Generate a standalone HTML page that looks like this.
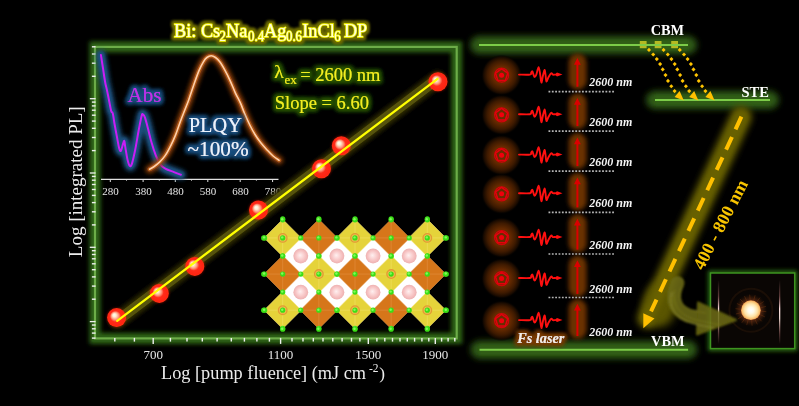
<!DOCTYPE html>
<html><head><meta charset="utf-8"><style>html,body{margin:0;padding:0;background:#000;}svg{display:block;}</style></head>
<body><svg width="799" height="406" viewBox="0 0 799 406">
<rect width="799" height="406" fill="#000"/>

<defs>
 <filter id="blur2" filterUnits="userSpaceOnUse" x="0" y="0" width="799" height="406"><feGaussianBlur stdDeviation="2"/></filter>
 <filter id="blur3" filterUnits="userSpaceOnUse" x="0" y="0" width="799" height="406"><feGaussianBlur stdDeviation="3"/></filter>
 <filter id="blur4" filterUnits="userSpaceOnUse" x="0" y="0" width="799" height="406"><feGaussianBlur stdDeviation="4"/></filter>
 <filter id="soft" filterUnits="userSpaceOnUse" x="0" y="0" width="799" height="406"><feGaussianBlur stdDeviation="0.6"/></filter>
 <filter id="blur1" filterUnits="userSpaceOnUse" x="0" y="0" width="799" height="406"><feGaussianBlur stdDeviation="1"/></filter>
 <filter id="glowTitle" x="-10%" y="-50%" width="120%" height="200%">
   <feMorphology in="SourceAlpha" operator="dilate" radius="1.8" result="d"/>
   <feGaussianBlur in="d" stdDeviation="1.8" result="b"/>
   <feFlood flood-color="#6e6c00" result="c"/><feComposite in="c" in2="b" operator="in" result="g"/>
   <feMerge><feMergeNode in="g"/><feMergeNode in="g"/><feMergeNode in="SourceGraphic"/></feMerge>
 </filter>
 <filter id="glowGreenTxt" x="-10%" y="-50%" width="120%" height="200%">
   <feMorphology in="SourceAlpha" operator="dilate" radius="1.5" result="d"/>
   <feGaussianBlur in="d" stdDeviation="2" result="b"/>
   <feFlood flood-color="#285400" result="c"/><feComposite in="c" in2="b" operator="in" result="g"/>
   <feMerge><feMergeNode in="g"/><feMergeNode in="g"/><feMergeNode in="SourceGraphic"/></feMerge>
 </filter>
 <filter id="glowBlueTxt" x="-20%" y="-50%" width="140%" height="200%">
   <feMorphology in="SourceAlpha" operator="dilate" radius="1.5" result="d"/>
   <feGaussianBlur in="d" stdDeviation="2" result="b"/>
   <feFlood flood-color="#1c4f80" result="c"/><feComposite in="c" in2="b" operator="in" result="g"/>
   <feMerge><feMergeNode in="g"/><feMergeNode in="g"/><feMergeNode in="SourceGraphic"/></feMerge>
 </filter>
 <filter id="glowBrownTxt" x="-20%" y="-50%" width="140%" height="200%">
   <feMorphology in="SourceAlpha" operator="dilate" radius="1.5" result="d"/>
   <feGaussianBlur in="d" stdDeviation="2" result="b"/>
   <feFlood flood-color="#7a3a00" result="c"/><feComposite in="c" in2="b" operator="in" result="g"/>
   <feMerge><feMergeNode in="g"/><feMergeNode in="g"/><feMergeNode in="SourceGraphic"/></feMerge>
 </filter>
 <radialGradient id="ball" cx="0.5" cy="0.5" r="0.5" fx="0.36" fy="0.35">
   <stop offset="0" stop-color="#fffff4"/>
   <stop offset="0.18" stop-color="#ffecd0"/>
   <stop offset="0.4" stop-color="#ff9478"/>
   <stop offset="0.58" stop-color="#ff2c1a"/>
   <stop offset="0.88" stop-color="#ff2412"/>
   <stop offset="1" stop-color="#ff3010"/>
 </radialGradient>
 <radialGradient id="pink" cx="0.5" cy="0.5" r="0.5" fx="0.45" fy="0.45">
   <stop offset="0" stop-color="#fff0f0"/>
   <stop offset="0.6" stop-color="#f8c8c8"/>
   <stop offset="1" stop-color="#eeb0b0"/>
 </radialGradient>
 <radialGradient id="laserGlow" cx="0.5" cy="0.5" r="0.5">
   <stop offset="0" stop-color="#6c2d00"/>
   <stop offset="0.42" stop-color="#662a00"/>
   <stop offset="0.7" stop-color="#3e1a00"/>
   <stop offset="0.88" stop-color="#180a00"/>
   <stop offset="1" stop-color="#000" stop-opacity="0"/>
 </radialGradient>
 <radialGradient id="sun" cx="0.5" cy="0.5" r="0.5">
   <stop offset="0" stop-color="#ffffff"/>
   <stop offset="0.3" stop-color="#fffbe8"/>
   <stop offset="0.65" stop-color="#ffe4a8"/>
   <stop offset="0.88" stop-color="#f8c070"/>
   <stop offset="1" stop-color="#e89048"/>
 </radialGradient>
 <radialGradient id="halo" cx="0.5" cy="0.5" r="0.5">
   <stop offset="0" stop-color="#904818"/>
   <stop offset="0.6" stop-color="#4a2210"/>
   <stop offset="0.8" stop-color="#221006"/>
   <stop offset="1" stop-color="#0b0604" stop-opacity="0"/>
 </radialGradient>
 <linearGradient id="vline" x1="0" y1="0" x2="0" y2="1">
   <stop offset="0" stop-color="#c08080" stop-opacity="0"/>
   <stop offset="0.25" stop-color="#b07070" stop-opacity="0.5"/>
   <stop offset="0.45" stop-color="#ffe0e0" stop-opacity="1"/>
   <stop offset="0.6" stop-color="#ffe8e0" stop-opacity="0.9"/>
   <stop offset="0.85" stop-color="#b07070" stop-opacity="0.4"/>
   <stop offset="1" stop-color="#c08080" stop-opacity="0"/>
 </linearGradient>
</defs>
<rect x="95.0" y="46.9" width="361.7" height="291.5" fill="none" stroke="#2e6414" stroke-width="11" filter="url(#blur2)"/>
<rect x="95.0" y="46.9" width="361.7" height="291.5" fill="none" stroke="#2c5e16" stroke-width="6" opacity="0.8"/>
<rect x="95.0" y="46.9" width="361.7" height="291.5" fill="none" stroke="#6cac48" stroke-width="2.2" />
<line x1="114.8" y1="337.9" x2="114.8" y2="341.59999999999997" stroke="#f0f0f0" stroke-width="1.4"/>
<line x1="134.4" y1="337.9" x2="134.4" y2="341.59999999999997" stroke="#f0f0f0" stroke-width="1.4"/>
<line x1="170.4" y1="337.9" x2="170.4" y2="341.59999999999997" stroke="#f0f0f0" stroke-width="1.4"/>
<line x1="187" y1="337.9" x2="187" y2="341.59999999999997" stroke="#f0f0f0" stroke-width="1.4"/>
<line x1="202.3" y1="337.9" x2="202.3" y2="341.59999999999997" stroke="#f0f0f0" stroke-width="1.4"/>
<line x1="217.1" y1="337.9" x2="217.1" y2="341.59999999999997" stroke="#f0f0f0" stroke-width="1.4"/>
<line x1="231.3" y1="337.9" x2="231.3" y2="341.59999999999997" stroke="#f0f0f0" stroke-width="1.4"/>
<line x1="244.4" y1="337.9" x2="244.4" y2="341.59999999999997" stroke="#f0f0f0" stroke-width="1.4"/>
<line x1="256.9" y1="337.9" x2="256.9" y2="341.59999999999997" stroke="#f0f0f0" stroke-width="1.4"/>
<line x1="269.4" y1="337.9" x2="269.4" y2="341.59999999999997" stroke="#f0f0f0" stroke-width="1.4"/>
<line x1="292" y1="337.9" x2="292" y2="341.59999999999997" stroke="#f0f0f0" stroke-width="1.4"/>
<line x1="303" y1="337.9" x2="303" y2="341.59999999999997" stroke="#f0f0f0" stroke-width="1.4"/>
<line x1="313.3" y1="337.9" x2="313.3" y2="341.59999999999997" stroke="#f0f0f0" stroke-width="1.4"/>
<line x1="323" y1="337.9" x2="323" y2="341.59999999999997" stroke="#f0f0f0" stroke-width="1.4"/>
<line x1="332.8" y1="337.9" x2="332.8" y2="341.59999999999997" stroke="#f0f0f0" stroke-width="1.4"/>
<line x1="342.1" y1="337.9" x2="342.1" y2="341.59999999999997" stroke="#f0f0f0" stroke-width="1.4"/>
<line x1="351.5" y1="337.9" x2="351.5" y2="341.59999999999997" stroke="#f0f0f0" stroke-width="1.4"/>
<line x1="359.9" y1="337.9" x2="359.9" y2="341.59999999999997" stroke="#f0f0f0" stroke-width="1.4"/>
<line x1="376.9" y1="337.9" x2="376.9" y2="341.59999999999997" stroke="#f0f0f0" stroke-width="1.4"/>
<line x1="384.8" y1="337.9" x2="384.8" y2="341.59999999999997" stroke="#f0f0f0" stroke-width="1.4"/>
<line x1="392.5" y1="337.9" x2="392.5" y2="341.59999999999997" stroke="#f0f0f0" stroke-width="1.4"/>
<line x1="400" y1="337.9" x2="400" y2="341.59999999999997" stroke="#f0f0f0" stroke-width="1.4"/>
<line x1="407.3" y1="337.9" x2="407.3" y2="341.59999999999997" stroke="#f0f0f0" stroke-width="1.4"/>
<line x1="414.6" y1="337.9" x2="414.6" y2="341.59999999999997" stroke="#f0f0f0" stroke-width="1.4"/>
<line x1="421.9" y1="337.9" x2="421.9" y2="341.59999999999997" stroke="#f0f0f0" stroke-width="1.4"/>
<line x1="428.8" y1="337.9" x2="428.8" y2="341.59999999999997" stroke="#f0f0f0" stroke-width="1.4"/>
<line x1="441.6" y1="337.9" x2="441.6" y2="341.59999999999997" stroke="#f0f0f0" stroke-width="1.4"/>
<line x1="448.1" y1="337.9" x2="448.1" y2="341.59999999999997" stroke="#f0f0f0" stroke-width="1.4"/>
<line x1="454.8" y1="337.9" x2="454.8" y2="341.59999999999997" stroke="#f0f0f0" stroke-width="1.4"/>
<line x1="153.2" y1="337.9" x2="153.2" y2="343.9" stroke="#f0f0f0" stroke-width="1.4"/>
<line x1="280.6" y1="337.9" x2="280.6" y2="343.9" stroke="#f0f0f0" stroke-width="1.4"/>
<line x1="368.3" y1="337.9" x2="368.3" y2="343.9" stroke="#f0f0f0" stroke-width="1.4"/>
<line x1="435.3" y1="337.9" x2="435.3" y2="343.9" stroke="#f0f0f0" stroke-width="1.4"/>
<line x1="89.8" y1="98.7" x2="95.6" y2="98.7" stroke="#f0f0f0" stroke-width="1.3"/>
<line x1="89.8" y1="173.0" x2="95.6" y2="173.0" stroke="#f0f0f0" stroke-width="1.3"/>
<line x1="89.8" y1="247.3" x2="95.6" y2="247.3" stroke="#f0f0f0" stroke-width="1.3"/>
<line x1="89.8" y1="321.59999999999997" x2="95.6" y2="321.59999999999997" stroke="#f0f0f0" stroke-width="1.3"/>
<line x1="91.9" y1="76.3" x2="95.6" y2="76.3" stroke="#f0f0f0" stroke-width="1.4"/>
<line x1="91.9" y1="63.2" x2="95.6" y2="63.2" stroke="#f0f0f0" stroke-width="1.4"/>
<line x1="91.9" y1="54.0" x2="95.6" y2="54.0" stroke="#f0f0f0" stroke-width="1.4"/>
<line x1="91.9" y1="46.8" x2="95.6" y2="46.8" stroke="#f0f0f0" stroke-width="1.4"/>
<line x1="91.9" y1="150.6" x2="95.6" y2="150.6" stroke="#f0f0f0" stroke-width="1.4"/>
<line x1="91.9" y1="137.5" x2="95.6" y2="137.5" stroke="#f0f0f0" stroke-width="1.4"/>
<line x1="91.9" y1="128.3" x2="95.6" y2="128.3" stroke="#f0f0f0" stroke-width="1.4"/>
<line x1="91.9" y1="121.1" x2="95.6" y2="121.1" stroke="#f0f0f0" stroke-width="1.4"/>
<line x1="91.9" y1="115.2" x2="95.6" y2="115.2" stroke="#f0f0f0" stroke-width="1.4"/>
<line x1="91.9" y1="110.2" x2="95.6" y2="110.2" stroke="#f0f0f0" stroke-width="1.4"/>
<line x1="91.9" y1="105.9" x2="95.6" y2="105.9" stroke="#f0f0f0" stroke-width="1.4"/>
<line x1="91.9" y1="102.1" x2="95.6" y2="102.1" stroke="#f0f0f0" stroke-width="1.4"/>
<line x1="91.9" y1="224.9" x2="95.6" y2="224.9" stroke="#f0f0f0" stroke-width="1.4"/>
<line x1="91.9" y1="211.8" x2="95.6" y2="211.8" stroke="#f0f0f0" stroke-width="1.4"/>
<line x1="91.9" y1="202.6" x2="95.6" y2="202.6" stroke="#f0f0f0" stroke-width="1.4"/>
<line x1="91.9" y1="195.4" x2="95.6" y2="195.4" stroke="#f0f0f0" stroke-width="1.4"/>
<line x1="91.9" y1="189.5" x2="95.6" y2="189.5" stroke="#f0f0f0" stroke-width="1.4"/>
<line x1="91.9" y1="184.5" x2="95.6" y2="184.5" stroke="#f0f0f0" stroke-width="1.4"/>
<line x1="91.9" y1="180.2" x2="95.6" y2="180.2" stroke="#f0f0f0" stroke-width="1.4"/>
<line x1="91.9" y1="176.4" x2="95.6" y2="176.4" stroke="#f0f0f0" stroke-width="1.4"/>
<line x1="91.9" y1="299.2" x2="95.6" y2="299.2" stroke="#f0f0f0" stroke-width="1.4"/>
<line x1="91.9" y1="286.1" x2="95.6" y2="286.1" stroke="#f0f0f0" stroke-width="1.4"/>
<line x1="91.9" y1="276.9" x2="95.6" y2="276.9" stroke="#f0f0f0" stroke-width="1.4"/>
<line x1="91.9" y1="269.7" x2="95.6" y2="269.7" stroke="#f0f0f0" stroke-width="1.4"/>
<line x1="91.9" y1="263.8" x2="95.6" y2="263.8" stroke="#f0f0f0" stroke-width="1.4"/>
<line x1="91.9" y1="258.8" x2="95.6" y2="258.8" stroke="#f0f0f0" stroke-width="1.4"/>
<line x1="91.9" y1="254.5" x2="95.6" y2="254.5" stroke="#f0f0f0" stroke-width="1.4"/>
<line x1="91.9" y1="250.7" x2="95.6" y2="250.7" stroke="#f0f0f0" stroke-width="1.4"/>
<line x1="91.9" y1="338.1" x2="95.6" y2="338.1" stroke="#f0f0f0" stroke-width="1.4"/>
<line x1="91.9" y1="333.1" x2="95.6" y2="333.1" stroke="#f0f0f0" stroke-width="1.4"/>
<line x1="91.9" y1="328.8" x2="95.6" y2="328.8" stroke="#f0f0f0" stroke-width="1.4"/>
<line x1="91.9" y1="325.0" x2="95.6" y2="325.0" stroke="#f0f0f0" stroke-width="1.4"/>
<text x="153.2" y="358.6" font-family="Liberation Serif, serif" font-size="13" fill="#e6e6e6" text-anchor="middle">700</text>
<text x="280.6" y="358.6" font-family="Liberation Serif, serif" font-size="13" fill="#e6e6e6" text-anchor="middle">1100</text>
<text x="368.3" y="358.6" font-family="Liberation Serif, serif" font-size="13" fill="#e6e6e6" text-anchor="middle">1500</text>
<text x="435.3" y="358.6" font-family="Liberation Serif, serif" font-size="13" fill="#e6e6e6" text-anchor="middle">1900</text>
<text x="161" y="379.4" font-family="Liberation Serif, serif" font-size="18.3" fill="#ececec">Log [pump fluence] (mJ cm<tspan dy="-7" font-size="11.5"> -2</tspan><tspan dy="7" dx="0.8" font-size="17.2">)</tspan></text>
<text transform="translate(82.4,257.2) rotate(-90)" x="0" y="0" font-family="Liberation Serif, serif" font-size="19" fill="#ececec">Log [integrated PL]</text>
<text transform="translate(174,0) scale(0.945,1) translate(-174,0)" font-family="Liberation Serif, serif" fill="#ffffd8" stroke="#f4f400" stroke-width="1.3" paint-order="stroke" filter="url(#glowTitle)"><tspan x="174.11" y="36.7" font-size="19.3">Bi: Cs</tspan><tspan x="222.25" y="40.6" font-size="13.6">2</tspan><tspan x="229.13" y="36.7" font-size="19.3">Na</tspan><tspan x="252.41" y="40.6" font-size="13.6">0.4</tspan><tspan x="269.34" y="36.7" font-size="19.3">Ag</tspan><tspan x="292.52" y="40.6" font-size="13.6">0.6</tspan><tspan x="309.77" y="36.7" font-size="19.3">InCl</tspan><tspan x="343.63" y="40.6" font-size="13.6">6</tspan><tspan x="353.79" y="36.7" font-size="19.3">DP</tspan></text>
<line x1="101" y1="179.4" x2="278.5" y2="179.4" stroke="#e0e0e0" stroke-width="1.2"/>
<line x1="110.3" y1="179.4" x2="110.3" y2="182" stroke="#e0e0e0" stroke-width="1"/>
<line x1="126.5" y1="179.4" x2="126.5" y2="180.8" stroke="#e0e0e0" stroke-width="0.8"/>
<text x="110.6" y="194.5" font-family="Liberation Serif, serif" font-size="11" fill="#e6e6e6" text-anchor="middle">280</text>
<line x1="143.1" y1="179.4" x2="143.1" y2="182" stroke="#e0e0e0" stroke-width="1"/>
<line x1="159.29999999999998" y1="179.4" x2="159.29999999999998" y2="180.8" stroke="#e0e0e0" stroke-width="0.8"/>
<text x="143.4" y="194.5" font-family="Liberation Serif, serif" font-size="11" fill="#e6e6e6" text-anchor="middle">380</text>
<line x1="175.3" y1="179.4" x2="175.3" y2="182" stroke="#e0e0e0" stroke-width="1"/>
<line x1="191.5" y1="179.4" x2="191.5" y2="180.8" stroke="#e0e0e0" stroke-width="0.8"/>
<text x="175.60000000000002" y="194.5" font-family="Liberation Serif, serif" font-size="11" fill="#e6e6e6" text-anchor="middle">480</text>
<line x1="207.8" y1="179.4" x2="207.8" y2="182" stroke="#e0e0e0" stroke-width="1"/>
<line x1="224.0" y1="179.4" x2="224.0" y2="180.8" stroke="#e0e0e0" stroke-width="0.8"/>
<text x="208.10000000000002" y="194.5" font-family="Liberation Serif, serif" font-size="11" fill="#e6e6e6" text-anchor="middle">580</text>
<line x1="240.2" y1="179.4" x2="240.2" y2="182" stroke="#e0e0e0" stroke-width="1"/>
<line x1="256.4" y1="179.4" x2="256.4" y2="180.8" stroke="#e0e0e0" stroke-width="0.8"/>
<text x="240.5" y="194.5" font-family="Liberation Serif, serif" font-size="11" fill="#e6e6e6" text-anchor="middle">680</text>
<line x1="272.6" y1="179.4" x2="272.6" y2="182" stroke="#e0e0e0" stroke-width="1"/>
<text x="272.90000000000003" y="194.5" font-family="Liberation Serif, serif" font-size="11" fill="#e6e6e6" text-anchor="middle">780</text>
<path d="M100.90,54.90 C101.23,57.03 102.18,63.10 102.90,67.70 C103.62,72.30 104.55,78.88 105.20,82.50 C105.85,86.12 106.13,86.28 106.80,89.40 C107.47,92.52 108.47,97.58 109.20,101.20 C109.93,104.82 110.60,109.07 111.20,111.10 C111.80,113.13 112.25,111.28 112.80,113.40 C113.35,115.52 113.78,119.77 114.50,123.80 C115.22,127.83 116.33,133.58 117.10,137.60 C117.87,141.62 118.47,145.68 119.10,147.90 C119.73,150.12 120.23,151.62 120.90,150.90 C121.57,150.18 122.53,145.25 123.10,143.60 C123.67,141.95 123.93,140.42 124.30,141.00 C124.67,141.58 124.78,144.08 125.30,147.10 C125.82,150.12 126.70,156.03 127.40,159.10 C128.10,162.17 128.78,164.63 129.50,165.50 C130.22,166.37 130.75,166.93 131.70,164.30 C132.65,161.67 134.05,155.30 135.20,149.70 C136.35,144.10 137.53,136.32 138.60,130.70 C139.67,125.08 140.88,118.73 141.60,116.00 C142.32,113.27 142.33,114.03 142.90,114.30 C143.47,114.57 144.13,115.15 145.00,117.60 C145.87,120.05 147.00,124.80 148.10,129.00 C149.20,133.20 150.30,138.35 151.60,142.80 C152.90,147.25 154.47,152.12 155.90,155.70 C157.33,159.28 158.63,162.15 160.20,164.30 C161.77,166.45 163.00,167.30 165.30,168.60 C167.60,169.90 171.40,171.08 174.00,172.10 C176.60,173.12 179.75,174.27 180.90,174.70" fill="none" stroke="#1d4d78" stroke-width="10" stroke-linejoin="round" stroke-linecap="round" filter="url(#blur2)"/>
<path d="M100.90,54.90 C101.23,57.03 102.18,63.10 102.90,67.70 C103.62,72.30 104.55,78.88 105.20,82.50 C105.85,86.12 106.13,86.28 106.80,89.40 C107.47,92.52 108.47,97.58 109.20,101.20 C109.93,104.82 110.60,109.07 111.20,111.10 C111.80,113.13 112.25,111.28 112.80,113.40 C113.35,115.52 113.78,119.77 114.50,123.80 C115.22,127.83 116.33,133.58 117.10,137.60 C117.87,141.62 118.47,145.68 119.10,147.90 C119.73,150.12 120.23,151.62 120.90,150.90 C121.57,150.18 122.53,145.25 123.10,143.60 C123.67,141.95 123.93,140.42 124.30,141.00 C124.67,141.58 124.78,144.08 125.30,147.10 C125.82,150.12 126.70,156.03 127.40,159.10 C128.10,162.17 128.78,164.63 129.50,165.50 C130.22,166.37 130.75,166.93 131.70,164.30 C132.65,161.67 134.05,155.30 135.20,149.70 C136.35,144.10 137.53,136.32 138.60,130.70 C139.67,125.08 140.88,118.73 141.60,116.00 C142.32,113.27 142.33,114.03 142.90,114.30 C143.47,114.57 144.13,115.15 145.00,117.60 C145.87,120.05 147.00,124.80 148.10,129.00 C149.20,133.20 150.30,138.35 151.60,142.80 C152.90,147.25 154.47,152.12 155.90,155.70 C157.33,159.28 158.63,162.15 160.20,164.30 C161.77,166.45 163.00,167.30 165.30,168.60 C167.60,169.90 171.40,171.08 174.00,172.10 C176.60,173.12 179.75,174.27 180.90,174.70" fill="none" stroke="#1f5282" stroke-width="6" stroke-linejoin="round" stroke-linecap="round" opacity="0.8" filter="url(#blur1)"/>
<path d="M100.90,54.90 C101.23,57.03 102.18,63.10 102.90,67.70 C103.62,72.30 104.55,78.88 105.20,82.50 C105.85,86.12 106.13,86.28 106.80,89.40 C107.47,92.52 108.47,97.58 109.20,101.20 C109.93,104.82 110.60,109.07 111.20,111.10 C111.80,113.13 112.25,111.28 112.80,113.40 C113.35,115.52 113.78,119.77 114.50,123.80 C115.22,127.83 116.33,133.58 117.10,137.60 C117.87,141.62 118.47,145.68 119.10,147.90 C119.73,150.12 120.23,151.62 120.90,150.90 C121.57,150.18 122.53,145.25 123.10,143.60 C123.67,141.95 123.93,140.42 124.30,141.00 C124.67,141.58 124.78,144.08 125.30,147.10 C125.82,150.12 126.70,156.03 127.40,159.10 C128.10,162.17 128.78,164.63 129.50,165.50 C130.22,166.37 130.75,166.93 131.70,164.30 C132.65,161.67 134.05,155.30 135.20,149.70 C136.35,144.10 137.53,136.32 138.60,130.70 C139.67,125.08 140.88,118.73 141.60,116.00 C142.32,113.27 142.33,114.03 142.90,114.30 C143.47,114.57 144.13,115.15 145.00,117.60 C145.87,120.05 147.00,124.80 148.10,129.00 C149.20,133.20 150.30,138.35 151.60,142.80 C152.90,147.25 154.47,152.12 155.90,155.70 C157.33,159.28 158.63,162.15 160.20,164.30 C161.77,166.45 163.00,167.30 165.30,168.60 C167.60,169.90 171.40,171.08 174.00,172.10 C176.60,173.12 179.75,174.27 180.90,174.70" fill="none" stroke="#c81ef5" stroke-width="2" stroke-linejoin="round" stroke-linecap="round"/>
<path d="M149.60,169.30 C150.37,168.83 152.50,167.73 154.20,166.50 C155.90,165.27 157.95,163.75 159.80,161.90 C161.65,160.05 163.45,158.17 165.30,155.40 C167.15,152.63 169.20,148.68 170.90,145.30 C172.60,141.92 173.97,138.95 175.50,135.10 C177.03,131.25 178.57,126.33 180.10,122.20 C181.63,118.07 183.25,114.05 184.70,110.30 C186.15,106.55 187.25,104.05 188.80,99.70 C190.35,95.35 192.28,89.08 194.00,84.20 C195.72,79.32 197.53,74.13 199.10,70.40 C200.67,66.67 202.10,63.95 203.40,61.80 C204.70,59.65 205.60,58.50 206.90,57.50 C208.20,56.50 209.77,55.80 211.20,55.80 C212.63,55.80 214.07,56.50 215.50,57.50 C216.93,58.50 218.22,59.65 219.80,61.80 C221.38,63.95 223.27,67.23 225.00,70.40 C226.73,73.57 228.48,77.07 230.20,80.80 C231.92,84.53 233.58,89.07 235.30,92.80 C237.02,96.53 238.93,99.70 240.50,103.20 C242.07,106.70 243.15,110.17 244.70,113.80 C246.25,117.43 248.08,121.55 249.80,125.00 C251.52,128.45 253.13,131.48 255.00,134.50 C256.87,137.52 258.98,140.52 261.00,143.10 C263.02,145.68 265.08,147.85 267.10,150.00 C269.12,152.15 271.10,154.28 273.10,156.00 C275.10,157.72 278.10,159.58 279.10,160.30" fill="none" stroke="#8a3c08" stroke-width="8" stroke-linejoin="round" stroke-linecap="round" filter="url(#blur2)"/>
<path d="M149.60,169.30 C150.37,168.83 152.50,167.73 154.20,166.50 C155.90,165.27 157.95,163.75 159.80,161.90 C161.65,160.05 163.45,158.17 165.30,155.40 C167.15,152.63 169.20,148.68 170.90,145.30 C172.60,141.92 173.97,138.95 175.50,135.10 C177.03,131.25 178.57,126.33 180.10,122.20 C181.63,118.07 183.25,114.05 184.70,110.30 C186.15,106.55 187.25,104.05 188.80,99.70 C190.35,95.35 192.28,89.08 194.00,84.20 C195.72,79.32 197.53,74.13 199.10,70.40 C200.67,66.67 202.10,63.95 203.40,61.80 C204.70,59.65 205.60,58.50 206.90,57.50 C208.20,56.50 209.77,55.80 211.20,55.80 C212.63,55.80 214.07,56.50 215.50,57.50 C216.93,58.50 218.22,59.65 219.80,61.80 C221.38,63.95 223.27,67.23 225.00,70.40 C226.73,73.57 228.48,77.07 230.20,80.80 C231.92,84.53 233.58,89.07 235.30,92.80 C237.02,96.53 238.93,99.70 240.50,103.20 C242.07,106.70 243.15,110.17 244.70,113.80 C246.25,117.43 248.08,121.55 249.80,125.00 C251.52,128.45 253.13,131.48 255.00,134.50 C256.87,137.52 258.98,140.52 261.00,143.10 C263.02,145.68 265.08,147.85 267.10,150.00 C269.12,152.15 271.10,154.28 273.10,156.00 C275.10,157.72 278.10,159.58 279.10,160.30" fill="none" stroke="#b45c18" stroke-width="4.2" stroke-linejoin="round" stroke-linecap="round" opacity="0.85" filter="url(#soft)"/>
<path d="M149.60,169.30 C150.37,168.83 152.50,167.73 154.20,166.50 C155.90,165.27 157.95,163.75 159.80,161.90 C161.65,160.05 163.45,158.17 165.30,155.40 C167.15,152.63 169.20,148.68 170.90,145.30 C172.60,141.92 173.97,138.95 175.50,135.10 C177.03,131.25 178.57,126.33 180.10,122.20 C181.63,118.07 183.25,114.05 184.70,110.30 C186.15,106.55 187.25,104.05 188.80,99.70 C190.35,95.35 192.28,89.08 194.00,84.20 C195.72,79.32 197.53,74.13 199.10,70.40 C200.67,66.67 202.10,63.95 203.40,61.80 C204.70,59.65 205.60,58.50 206.90,57.50 C208.20,56.50 209.77,55.80 211.20,55.80 C212.63,55.80 214.07,56.50 215.50,57.50 C216.93,58.50 218.22,59.65 219.80,61.80 C221.38,63.95 223.27,67.23 225.00,70.40 C226.73,73.57 228.48,77.07 230.20,80.80 C231.92,84.53 233.58,89.07 235.30,92.80 C237.02,96.53 238.93,99.70 240.50,103.20 C242.07,106.70 243.15,110.17 244.70,113.80 C246.25,117.43 248.08,121.55 249.80,125.00 C251.52,128.45 253.13,131.48 255.00,134.50 C256.87,137.52 258.98,140.52 261.00,143.10 C263.02,145.68 265.08,147.85 267.10,150.00 C269.12,152.15 271.10,154.28 273.10,156.00 C275.10,157.72 278.10,159.58 279.10,160.30" fill="none" stroke="#ffcfaa" stroke-width="1.6" stroke-linejoin="round" stroke-linecap="round"/>
<text x="127.6" y="101.5" font-family="Liberation Serif, serif" font-size="21" fill="#c22cf0" filter="url(#glowBlueTxt)" textLength="33.8" lengthAdjust="spacingAndGlyphs">Abs</text>
<text x="188.8" y="131.6" font-family="Liberation Serif, serif" font-size="20" fill="#eaf4ff" filter="url(#glowBlueTxt)" textLength="53" lengthAdjust="spacingAndGlyphs">PLQY</text>
<text x="187.6" y="156" font-family="Liberation Serif, serif" font-size="20.2" fill="#eaf4ff" filter="url(#glowBlueTxt)" textLength="61" lengthAdjust="spacingAndGlyphs">~100%</text>
<text font-family="Liberation Serif, serif" font-size="18.5" fill="#f0f020" filter="url(#glowGreenTxt)"><tspan x="274.3" y="77.6" font-size="19.5">λ</tspan><tspan x="284.4" y="84.4" font-size="13">ex</tspan><tspan x="300.2" y="81">= 2600 nm</tspan></text>
<text x="274.8" y="108.6" font-family="Liberation Serif, serif" font-size="18.5" fill="#f0f020" filter="url(#glowGreenTxt)">Slope = 6.60</text>
<polygon points="300.775,237.375 319.375,255.975 300.775,274.575 282.17499999999995,255.975" fill="#ffffff"/>
<circle cx="300.775" cy="255.975" r="7.4" fill="url(#pink)"/>
<polygon points="336.92499999999995,237.375 355.525,255.975 336.92499999999995,274.575 318.32499999999993,255.975" fill="#ffffff"/>
<circle cx="336.92499999999995" cy="255.975" r="7.4" fill="url(#pink)"/>
<polygon points="373.075,237.375 391.675,255.975 373.075,274.575 354.47499999999997,255.975" fill="#ffffff"/>
<circle cx="373.075" cy="255.975" r="7.4" fill="url(#pink)"/>
<polygon points="409.22499999999997,237.375 427.825,255.975 409.22499999999997,274.575 390.62499999999994,255.975" fill="#ffffff"/>
<circle cx="409.22499999999997" cy="255.975" r="7.4" fill="url(#pink)"/>
<polygon points="300.775,273.525 319.375,292.125 300.775,310.725 282.17499999999995,292.125" fill="#ffffff"/>
<circle cx="300.775" cy="292.125" r="7.4" fill="url(#pink)"/>
<polygon points="336.92499999999995,273.525 355.525,292.125 336.92499999999995,310.725 318.32499999999993,292.125" fill="#ffffff"/>
<circle cx="336.92499999999995" cy="292.125" r="7.4" fill="url(#pink)"/>
<polygon points="373.075,273.525 391.675,292.125 373.075,310.725 354.47499999999997,292.125" fill="#ffffff"/>
<circle cx="373.075" cy="292.125" r="7.4" fill="url(#pink)"/>
<polygon points="409.22499999999997,273.525 427.825,292.125 409.22499999999997,310.725 390.62499999999994,292.125" fill="#ffffff"/>
<circle cx="409.22499999999997" cy="292.125" r="7.4" fill="url(#pink)"/>
<polygon points="282.7,219.3 301.3,237.9 282.7,256.5 264.09999999999997,237.9" fill="#e5d33a" stroke="#f6e678" stroke-width="0.6"/>
<path d="M264.09999999999997,237.9 L301.3,237.9 M282.7,219.3 L282.7,256.5" stroke="#f6e678" stroke-width="0.6" opacity="0.7"/>
<circle cx="282.7" cy="237.9" r="4.3" fill="#eec04a" stroke="#e29a34" stroke-width="1.3"/>
<polygon points="318.84999999999997,219.3 337.45,237.9 318.84999999999997,256.5 300.24999999999994,237.9" fill="#d6761a" stroke="#e89a50" stroke-width="0.6"/>
<path d="M300.24999999999994,237.9 L337.45,237.9 M318.84999999999997,219.3 L318.84999999999997,256.5" stroke="#e89a50" stroke-width="0.6" opacity="0.7"/>
<polygon points="355.0,219.3 373.6,237.9 355.0,256.5 336.4,237.9" fill="#e5d33a" stroke="#f6e678" stroke-width="0.6"/>
<path d="M336.4,237.9 L373.6,237.9 M355.0,219.3 L355.0,256.5" stroke="#f6e678" stroke-width="0.6" opacity="0.7"/>
<circle cx="355.0" cy="237.9" r="4.3" fill="#eec04a" stroke="#e29a34" stroke-width="1.3"/>
<polygon points="391.15,219.3 409.75,237.9 391.15,256.5 372.54999999999995,237.9" fill="#d6761a" stroke="#e89a50" stroke-width="0.6"/>
<path d="M372.54999999999995,237.9 L409.75,237.9 M391.15,219.3 L391.15,256.5" stroke="#e89a50" stroke-width="0.6" opacity="0.7"/>
<polygon points="427.29999999999995,219.3 445.9,237.9 427.29999999999995,256.5 408.69999999999993,237.9" fill="#e5d33a" stroke="#f6e678" stroke-width="0.6"/>
<path d="M408.69999999999993,237.9 L445.9,237.9 M427.29999999999995,219.3 L427.29999999999995,256.5" stroke="#f6e678" stroke-width="0.6" opacity="0.7"/>
<circle cx="427.29999999999995" cy="237.9" r="4.3" fill="#eec04a" stroke="#e29a34" stroke-width="1.3"/>
<polygon points="282.7,255.45000000000002 301.3,274.05 282.7,292.65000000000003 264.09999999999997,274.05" fill="#d6761a" stroke="#e89a50" stroke-width="0.6"/>
<path d="M264.09999999999997,274.05 L301.3,274.05 M282.7,255.45000000000002 L282.7,292.65000000000003" stroke="#e89a50" stroke-width="0.6" opacity="0.7"/>
<polygon points="318.84999999999997,255.45000000000002 337.45,274.05 318.84999999999997,292.65000000000003 300.24999999999994,274.05" fill="#e5d33a" stroke="#f6e678" stroke-width="0.6"/>
<path d="M300.24999999999994,274.05 L337.45,274.05 M318.84999999999997,255.45000000000002 L318.84999999999997,292.65000000000003" stroke="#f6e678" stroke-width="0.6" opacity="0.7"/>
<circle cx="318.84999999999997" cy="274.05" r="4.3" fill="#eec04a" stroke="#e29a34" stroke-width="1.3"/>
<polygon points="355.0,255.45000000000002 373.6,274.05 355.0,292.65000000000003 336.4,274.05" fill="#d6761a" stroke="#e89a50" stroke-width="0.6"/>
<path d="M336.4,274.05 L373.6,274.05 M355.0,255.45000000000002 L355.0,292.65000000000003" stroke="#e89a50" stroke-width="0.6" opacity="0.7"/>
<polygon points="391.15,255.45000000000002 409.75,274.05 391.15,292.65000000000003 372.54999999999995,274.05" fill="#e5d33a" stroke="#f6e678" stroke-width="0.6"/>
<path d="M372.54999999999995,274.05 L409.75,274.05 M391.15,255.45000000000002 L391.15,292.65000000000003" stroke="#f6e678" stroke-width="0.6" opacity="0.7"/>
<circle cx="391.15" cy="274.05" r="4.3" fill="#eec04a" stroke="#e29a34" stroke-width="1.3"/>
<polygon points="427.29999999999995,255.45000000000002 445.9,274.05 427.29999999999995,292.65000000000003 408.69999999999993,274.05" fill="#d6761a" stroke="#e89a50" stroke-width="0.6"/>
<path d="M408.69999999999993,274.05 L445.9,274.05 M427.29999999999995,255.45000000000002 L427.29999999999995,292.65000000000003" stroke="#e89a50" stroke-width="0.6" opacity="0.7"/>
<polygon points="282.7,291.59999999999997 301.3,310.2 282.7,328.8 264.09999999999997,310.2" fill="#e5d33a" stroke="#f6e678" stroke-width="0.6"/>
<path d="M264.09999999999997,310.2 L301.3,310.2 M282.7,291.59999999999997 L282.7,328.8" stroke="#f6e678" stroke-width="0.6" opacity="0.7"/>
<circle cx="282.7" cy="310.2" r="4.3" fill="#eec04a" stroke="#e29a34" stroke-width="1.3"/>
<polygon points="318.84999999999997,291.59999999999997 337.45,310.2 318.84999999999997,328.8 300.24999999999994,310.2" fill="#d6761a" stroke="#e89a50" stroke-width="0.6"/>
<path d="M300.24999999999994,310.2 L337.45,310.2 M318.84999999999997,291.59999999999997 L318.84999999999997,328.8" stroke="#e89a50" stroke-width="0.6" opacity="0.7"/>
<polygon points="355.0,291.59999999999997 373.6,310.2 355.0,328.8 336.4,310.2" fill="#e5d33a" stroke="#f6e678" stroke-width="0.6"/>
<path d="M336.4,310.2 L373.6,310.2 M355.0,291.59999999999997 L355.0,328.8" stroke="#f6e678" stroke-width="0.6" opacity="0.7"/>
<circle cx="355.0" cy="310.2" r="4.3" fill="#eec04a" stroke="#e29a34" stroke-width="1.3"/>
<polygon points="391.15,291.59999999999997 409.75,310.2 391.15,328.8 372.54999999999995,310.2" fill="#d6761a" stroke="#e89a50" stroke-width="0.6"/>
<path d="M372.54999999999995,310.2 L409.75,310.2 M391.15,291.59999999999997 L391.15,328.8" stroke="#e89a50" stroke-width="0.6" opacity="0.7"/>
<polygon points="427.29999999999995,291.59999999999997 445.9,310.2 427.29999999999995,328.8 408.69999999999993,310.2" fill="#e5d33a" stroke="#f6e678" stroke-width="0.6"/>
<path d="M408.69999999999993,310.2 L445.9,310.2 M427.29999999999995,291.59999999999997 L427.29999999999995,328.8" stroke="#f6e678" stroke-width="0.6" opacity="0.7"/>
<circle cx="427.29999999999995" cy="310.2" r="4.3" fill="#eec04a" stroke="#e29a34" stroke-width="1.3"/>
<circle cx="263.7" cy="237.9" r="2.6" fill="#3ade16"/>
<circle cx="263.2" cy="237.4" r="1.2" fill="#90ff68" opacity="0.85"/>
<circle cx="263.7" cy="274.05" r="2.6" fill="#3ade16"/>
<circle cx="263.2" cy="273.55" r="1.2" fill="#90ff68" opacity="0.85"/>
<circle cx="263.7" cy="310.2" r="2.6" fill="#3ade16"/>
<circle cx="263.2" cy="309.7" r="1.2" fill="#90ff68" opacity="0.85"/>
<circle cx="264.6" cy="237.9" r="2.6" fill="#3ade16"/>
<circle cx="264.1" cy="237.4" r="1.2" fill="#90ff68" opacity="0.85"/>
<circle cx="264.6" cy="274.05" r="2.6" fill="#3ade16"/>
<circle cx="264.1" cy="273.55" r="1.2" fill="#90ff68" opacity="0.85"/>
<circle cx="264.6" cy="310.2" r="2.6" fill="#3ade16"/>
<circle cx="264.1" cy="309.7" r="1.2" fill="#90ff68" opacity="0.85"/>
<circle cx="282.7" cy="218.9" r="2.6" fill="#3ade16"/>
<circle cx="282.2" cy="218.4" r="1.2" fill="#90ff68" opacity="0.85"/>
<circle cx="282.7" cy="219.8" r="2.6" fill="#3ade16"/>
<circle cx="282.2" cy="219.3" r="1.2" fill="#90ff68" opacity="0.85"/>
<circle cx="282.7" cy="237.9" r="2.6" fill="#3ade16"/>
<circle cx="282.2" cy="237.4" r="1.2" fill="#90ff68" opacity="0.85"/>
<circle cx="282.7" cy="255.97" r="2.6" fill="#3ade16"/>
<circle cx="282.2" cy="255.47" r="1.2" fill="#90ff68" opacity="0.85"/>
<circle cx="282.7" cy="255.98" r="2.6" fill="#3ade16"/>
<circle cx="282.2" cy="255.48" r="1.2" fill="#90ff68" opacity="0.85"/>
<circle cx="282.7" cy="274.05" r="2.6" fill="#3ade16"/>
<circle cx="282.2" cy="273.55" r="1.2" fill="#90ff68" opacity="0.85"/>
<circle cx="282.7" cy="292.12" r="2.6" fill="#3ade16"/>
<circle cx="282.2" cy="291.62" r="1.2" fill="#90ff68" opacity="0.85"/>
<circle cx="282.7" cy="310.2" r="2.6" fill="#3ade16"/>
<circle cx="282.2" cy="309.7" r="1.2" fill="#90ff68" opacity="0.85"/>
<circle cx="282.7" cy="328.3" r="2.6" fill="#3ade16"/>
<circle cx="282.2" cy="327.8" r="1.2" fill="#90ff68" opacity="0.85"/>
<circle cx="282.7" cy="329.2" r="2.6" fill="#3ade16"/>
<circle cx="282.2" cy="328.7" r="1.2" fill="#90ff68" opacity="0.85"/>
<circle cx="300.77" cy="237.9" r="2.6" fill="#3ade16"/>
<circle cx="300.27" cy="237.4" r="1.2" fill="#90ff68" opacity="0.85"/>
<circle cx="300.77" cy="274.05" r="2.6" fill="#3ade16"/>
<circle cx="300.27" cy="273.55" r="1.2" fill="#90ff68" opacity="0.85"/>
<circle cx="300.77" cy="310.2" r="2.6" fill="#3ade16"/>
<circle cx="300.27" cy="309.7" r="1.2" fill="#90ff68" opacity="0.85"/>
<circle cx="318.85" cy="218.9" r="2.6" fill="#3ade16"/>
<circle cx="318.35" cy="218.4" r="1.2" fill="#90ff68" opacity="0.85"/>
<circle cx="318.85" cy="219.8" r="2.6" fill="#3ade16"/>
<circle cx="318.35" cy="219.3" r="1.2" fill="#90ff68" opacity="0.85"/>
<circle cx="318.85" cy="237.9" r="2.6" fill="#3ade16"/>
<circle cx="318.35" cy="237.4" r="1.2" fill="#90ff68" opacity="0.85"/>
<circle cx="318.85" cy="255.97" r="2.6" fill="#3ade16"/>
<circle cx="318.35" cy="255.47" r="1.2" fill="#90ff68" opacity="0.85"/>
<circle cx="318.85" cy="255.98" r="2.6" fill="#3ade16"/>
<circle cx="318.35" cy="255.48" r="1.2" fill="#90ff68" opacity="0.85"/>
<circle cx="318.85" cy="274.05" r="2.6" fill="#3ade16"/>
<circle cx="318.35" cy="273.55" r="1.2" fill="#90ff68" opacity="0.85"/>
<circle cx="318.85" cy="292.12" r="2.6" fill="#3ade16"/>
<circle cx="318.35" cy="291.62" r="1.2" fill="#90ff68" opacity="0.85"/>
<circle cx="318.85" cy="310.2" r="2.6" fill="#3ade16"/>
<circle cx="318.35" cy="309.7" r="1.2" fill="#90ff68" opacity="0.85"/>
<circle cx="318.85" cy="328.3" r="2.6" fill="#3ade16"/>
<circle cx="318.35" cy="327.8" r="1.2" fill="#90ff68" opacity="0.85"/>
<circle cx="318.85" cy="329.2" r="2.6" fill="#3ade16"/>
<circle cx="318.35" cy="328.7" r="1.2" fill="#90ff68" opacity="0.85"/>
<circle cx="336.92" cy="237.9" r="2.6" fill="#3ade16"/>
<circle cx="336.42" cy="237.4" r="1.2" fill="#90ff68" opacity="0.85"/>
<circle cx="336.92" cy="274.05" r="2.6" fill="#3ade16"/>
<circle cx="336.42" cy="273.55" r="1.2" fill="#90ff68" opacity="0.85"/>
<circle cx="336.92" cy="310.2" r="2.6" fill="#3ade16"/>
<circle cx="336.42" cy="309.7" r="1.2" fill="#90ff68" opacity="0.85"/>
<circle cx="336.93" cy="237.9" r="2.6" fill="#3ade16"/>
<circle cx="336.43" cy="237.4" r="1.2" fill="#90ff68" opacity="0.85"/>
<circle cx="336.93" cy="274.05" r="2.6" fill="#3ade16"/>
<circle cx="336.43" cy="273.55" r="1.2" fill="#90ff68" opacity="0.85"/>
<circle cx="336.93" cy="310.2" r="2.6" fill="#3ade16"/>
<circle cx="336.43" cy="309.7" r="1.2" fill="#90ff68" opacity="0.85"/>
<circle cx="355.0" cy="218.9" r="2.6" fill="#3ade16"/>
<circle cx="354.5" cy="218.4" r="1.2" fill="#90ff68" opacity="0.85"/>
<circle cx="355.0" cy="219.8" r="2.6" fill="#3ade16"/>
<circle cx="354.5" cy="219.3" r="1.2" fill="#90ff68" opacity="0.85"/>
<circle cx="355.0" cy="237.9" r="2.6" fill="#3ade16"/>
<circle cx="354.5" cy="237.4" r="1.2" fill="#90ff68" opacity="0.85"/>
<circle cx="355.0" cy="255.97" r="2.6" fill="#3ade16"/>
<circle cx="354.5" cy="255.47" r="1.2" fill="#90ff68" opacity="0.85"/>
<circle cx="355.0" cy="255.98" r="2.6" fill="#3ade16"/>
<circle cx="354.5" cy="255.48" r="1.2" fill="#90ff68" opacity="0.85"/>
<circle cx="355.0" cy="274.05" r="2.6" fill="#3ade16"/>
<circle cx="354.5" cy="273.55" r="1.2" fill="#90ff68" opacity="0.85"/>
<circle cx="355.0" cy="292.12" r="2.6" fill="#3ade16"/>
<circle cx="354.5" cy="291.62" r="1.2" fill="#90ff68" opacity="0.85"/>
<circle cx="355.0" cy="310.2" r="2.6" fill="#3ade16"/>
<circle cx="354.5" cy="309.7" r="1.2" fill="#90ff68" opacity="0.85"/>
<circle cx="355.0" cy="328.3" r="2.6" fill="#3ade16"/>
<circle cx="354.5" cy="327.8" r="1.2" fill="#90ff68" opacity="0.85"/>
<circle cx="355.0" cy="329.2" r="2.6" fill="#3ade16"/>
<circle cx="354.5" cy="328.7" r="1.2" fill="#90ff68" opacity="0.85"/>
<circle cx="373.07" cy="237.9" r="2.6" fill="#3ade16"/>
<circle cx="372.57" cy="237.4" r="1.2" fill="#90ff68" opacity="0.85"/>
<circle cx="373.07" cy="274.05" r="2.6" fill="#3ade16"/>
<circle cx="372.57" cy="273.55" r="1.2" fill="#90ff68" opacity="0.85"/>
<circle cx="373.07" cy="310.2" r="2.6" fill="#3ade16"/>
<circle cx="372.57" cy="309.7" r="1.2" fill="#90ff68" opacity="0.85"/>
<circle cx="391.15" cy="218.9" r="2.6" fill="#3ade16"/>
<circle cx="390.65" cy="218.4" r="1.2" fill="#90ff68" opacity="0.85"/>
<circle cx="391.15" cy="219.8" r="2.6" fill="#3ade16"/>
<circle cx="390.65" cy="219.3" r="1.2" fill="#90ff68" opacity="0.85"/>
<circle cx="391.15" cy="237.9" r="2.6" fill="#3ade16"/>
<circle cx="390.65" cy="237.4" r="1.2" fill="#90ff68" opacity="0.85"/>
<circle cx="391.15" cy="255.97" r="2.6" fill="#3ade16"/>
<circle cx="390.65" cy="255.47" r="1.2" fill="#90ff68" opacity="0.85"/>
<circle cx="391.15" cy="255.98" r="2.6" fill="#3ade16"/>
<circle cx="390.65" cy="255.48" r="1.2" fill="#90ff68" opacity="0.85"/>
<circle cx="391.15" cy="274.05" r="2.6" fill="#3ade16"/>
<circle cx="390.65" cy="273.55" r="1.2" fill="#90ff68" opacity="0.85"/>
<circle cx="391.15" cy="292.12" r="2.6" fill="#3ade16"/>
<circle cx="390.65" cy="291.62" r="1.2" fill="#90ff68" opacity="0.85"/>
<circle cx="391.15" cy="310.2" r="2.6" fill="#3ade16"/>
<circle cx="390.65" cy="309.7" r="1.2" fill="#90ff68" opacity="0.85"/>
<circle cx="391.15" cy="328.3" r="2.6" fill="#3ade16"/>
<circle cx="390.65" cy="327.8" r="1.2" fill="#90ff68" opacity="0.85"/>
<circle cx="391.15" cy="329.2" r="2.6" fill="#3ade16"/>
<circle cx="390.65" cy="328.7" r="1.2" fill="#90ff68" opacity="0.85"/>
<circle cx="409.22" cy="237.9" r="2.6" fill="#3ade16"/>
<circle cx="408.72" cy="237.4" r="1.2" fill="#90ff68" opacity="0.85"/>
<circle cx="409.22" cy="274.05" r="2.6" fill="#3ade16"/>
<circle cx="408.72" cy="273.55" r="1.2" fill="#90ff68" opacity="0.85"/>
<circle cx="409.22" cy="310.2" r="2.6" fill="#3ade16"/>
<circle cx="408.72" cy="309.7" r="1.2" fill="#90ff68" opacity="0.85"/>
<circle cx="427.3" cy="218.9" r="2.6" fill="#3ade16"/>
<circle cx="426.8" cy="218.4" r="1.2" fill="#90ff68" opacity="0.85"/>
<circle cx="427.3" cy="219.8" r="2.6" fill="#3ade16"/>
<circle cx="426.8" cy="219.3" r="1.2" fill="#90ff68" opacity="0.85"/>
<circle cx="427.3" cy="237.9" r="2.6" fill="#3ade16"/>
<circle cx="426.8" cy="237.4" r="1.2" fill="#90ff68" opacity="0.85"/>
<circle cx="427.3" cy="255.97" r="2.6" fill="#3ade16"/>
<circle cx="426.8" cy="255.47" r="1.2" fill="#90ff68" opacity="0.85"/>
<circle cx="427.3" cy="255.98" r="2.6" fill="#3ade16"/>
<circle cx="426.8" cy="255.48" r="1.2" fill="#90ff68" opacity="0.85"/>
<circle cx="427.3" cy="274.05" r="2.6" fill="#3ade16"/>
<circle cx="426.8" cy="273.55" r="1.2" fill="#90ff68" opacity="0.85"/>
<circle cx="427.3" cy="292.12" r="2.6" fill="#3ade16"/>
<circle cx="426.8" cy="291.62" r="1.2" fill="#90ff68" opacity="0.85"/>
<circle cx="427.3" cy="310.2" r="2.6" fill="#3ade16"/>
<circle cx="426.8" cy="309.7" r="1.2" fill="#90ff68" opacity="0.85"/>
<circle cx="427.3" cy="328.3" r="2.6" fill="#3ade16"/>
<circle cx="426.8" cy="327.8" r="1.2" fill="#90ff68" opacity="0.85"/>
<circle cx="427.3" cy="329.2" r="2.6" fill="#3ade16"/>
<circle cx="426.8" cy="328.7" r="1.2" fill="#90ff68" opacity="0.85"/>
<circle cx="445.4" cy="237.9" r="2.6" fill="#3ade16"/>
<circle cx="444.9" cy="237.4" r="1.2" fill="#90ff68" opacity="0.85"/>
<circle cx="445.4" cy="274.05" r="2.6" fill="#3ade16"/>
<circle cx="444.9" cy="273.55" r="1.2" fill="#90ff68" opacity="0.85"/>
<circle cx="445.4" cy="310.2" r="2.6" fill="#3ade16"/>
<circle cx="444.9" cy="309.7" r="1.2" fill="#90ff68" opacity="0.85"/>
<circle cx="446.3" cy="237.9" r="2.6" fill="#3ade16"/>
<circle cx="445.8" cy="237.4" r="1.2" fill="#90ff68" opacity="0.85"/>
<circle cx="446.3" cy="274.05" r="2.6" fill="#3ade16"/>
<circle cx="445.8" cy="273.55" r="1.2" fill="#90ff68" opacity="0.85"/>
<circle cx="446.3" cy="310.2" r="2.6" fill="#3ade16"/>
<circle cx="445.8" cy="309.7" r="1.2" fill="#90ff68" opacity="0.85"/>
<line x1="117.2" y1="320.9" x2="437.5" y2="78.8" stroke="#2e2c00" stroke-width="16" stroke-linecap="round" filter="url(#blur2)"/>
<line x1="117.2" y1="320.9" x2="437.5" y2="78.8" stroke="#57530a" stroke-width="10.5" stroke-linecap="round" filter="url(#soft)"/>
<circle cx="116.6" cy="317.6" r="10.2" fill="#ff1800" opacity="0.3" filter="url(#blur1)"/>
<circle cx="116.6" cy="317.6" r="9.5" fill="url(#ball)"/>
<circle cx="159.3" cy="293.4" r="10.2" fill="#ff1800" opacity="0.3" filter="url(#blur1)"/>
<circle cx="159.3" cy="293.4" r="9.5" fill="url(#ball)"/>
<circle cx="194.8" cy="266.4" r="10.2" fill="#ff1800" opacity="0.3" filter="url(#blur1)"/>
<circle cx="194.8" cy="266.4" r="9.5" fill="url(#ball)"/>
<circle cx="258.5" cy="210" r="10.2" fill="#ff1800" opacity="0.3" filter="url(#blur1)"/>
<circle cx="258.5" cy="210" r="9.5" fill="url(#ball)"/>
<circle cx="321.5" cy="168.8" r="10.2" fill="#ff1800" opacity="0.3" filter="url(#blur1)"/>
<circle cx="321.5" cy="168.8" r="9.5" fill="url(#ball)"/>
<circle cx="341.3" cy="145.7" r="10.2" fill="#ff1800" opacity="0.3" filter="url(#blur1)"/>
<circle cx="341.3" cy="145.7" r="9.5" fill="url(#ball)"/>
<circle cx="438" cy="81.8" r="10.2" fill="#ff1800" opacity="0.3" filter="url(#blur1)"/>
<circle cx="438" cy="81.8" r="9.5" fill="url(#ball)"/>
<line x1="117.2" y1="320.9" x2="437.5" y2="78.8" stroke="#ffff00" stroke-width="2.3" stroke-linecap="round"/>
<line x1="479" y1="45" x2="688" y2="45" stroke="#2d5a12" stroke-width="18" stroke-linecap="round" filter="url(#blur3)"/>
<line x1="479" y1="45" x2="688" y2="45" stroke="#325f16" stroke-width="10" opacity="0.8" filter="url(#blur1)"/>
<line x1="479" y1="45" x2="688" y2="45" stroke="#7ccc48" stroke-width="2"/>
<line x1="655" y1="100" x2="770" y2="100" stroke="#2d5a12" stroke-width="18" stroke-linecap="round" filter="url(#blur3)"/>
<line x1="655" y1="100" x2="770" y2="100" stroke="#325f16" stroke-width="10" opacity="0.8" filter="url(#blur1)"/>
<line x1="655" y1="100" x2="770" y2="100" stroke="#7ccc48" stroke-width="2"/>
<line x1="479.5" y1="349.7" x2="688.1" y2="349.7" stroke="#2d5a12" stroke-width="18" stroke-linecap="round" filter="url(#blur3)"/>
<line x1="479.5" y1="349.7" x2="688.1" y2="349.7" stroke="#325f16" stroke-width="10" opacity="0.8" filter="url(#blur1)"/>
<line x1="479.5" y1="349.7" x2="688.1" y2="349.7" stroke="#7ccc48" stroke-width="2"/>
<text x="650.7" y="35.4" font-family="Liberation Serif, serif" font-size="14.3" font-weight="bold" fill="#ffffff" textLength="33.4" lengthAdjust="spacingAndGlyphs">CBM</text>
<text x="741.5" y="96.5" font-family="Liberation Serif, serif" font-size="14.3" font-weight="bold" fill="#ffffff" textLength="27.4" lengthAdjust="spacingAndGlyphs">STE</text>
<text x="651" y="345.8" font-family="Liberation Serif, serif" font-size="14.5" font-weight="bold" fill="#ffffff" textLength="33.6" lengthAdjust="spacingAndGlyphs">VBM</text>
<rect x="568.6" y="53.5" width="18" height="36.2" rx="9" fill="#6a3000" filter="url(#blur2)"/>
<rect x="568.6" y="93.4" width="18" height="35.7" rx="9" fill="#6a3000" filter="url(#blur2)"/>
<rect x="568.6" y="133.0" width="18" height="36.1" rx="9" fill="#6a3000" filter="url(#blur2)"/>
<rect x="568.6" y="172.9" width="18" height="37.5" rx="9" fill="#6a3000" filter="url(#blur2)"/>
<rect x="568.6" y="214.2" width="18" height="38.4" rx="9" fill="#6a3000" filter="url(#blur2)"/>
<rect x="568.6" y="255.8" width="18" height="41.1" rx="9" fill="#6a3000" filter="url(#blur2)"/>
<rect x="568.6" y="299.3" width="18" height="39.7" rx="9" fill="#6a3000" filter="url(#blur2)"/>
<circle cx="501.6" cy="75.2" r="20.5" fill="url(#laserGlow)"/>
<circle cx="501.6" cy="75.2" r="7.0" fill="none" stroke="#dc000c" stroke-width="1.3" opacity="0.9" filter="url(#soft)"/>
<polygon points="501.60,68.80 507.69,73.22 505.36,80.38 497.84,80.38 495.51,73.22" fill="none" stroke="#e4000c" stroke-width="1.5" stroke-linejoin="round" filter="url(#soft)"/>
<circle cx="501.6" cy="75.2" r="2.5" fill="#f00010" filter="url(#soft)"/>
<path d="M519.00,74.60 C520.83,74.60 527.95,74.97 530.00,74.60 C532.05,74.23 530.90,72.95 531.30,72.40 C531.70,71.85 532.03,70.93 532.40,71.30 C532.77,71.67 533.13,73.63 533.50,74.60 C533.87,75.57 534.13,77.10 534.60,77.10 C535.07,77.10 535.63,76.25 536.30,74.60 C536.97,72.95 537.95,67.20 538.60,67.20 C539.25,67.20 539.73,72.03 540.20,74.60 C540.67,77.17 540.93,82.43 541.40,82.60 C541.87,82.77 542.48,77.70 543.00,75.60 C543.52,73.50 544.08,70.17 544.50,70.00 C544.92,69.83 545.18,72.70 545.50,74.60 C545.82,76.50 545.88,80.98 546.40,81.40 C546.92,81.82 547.80,78.47 548.60,77.10 C549.40,75.73 550.50,73.62 551.20,73.20 C551.90,72.78 552.17,74.37 552.80,74.60 C553.43,74.83 554.63,74.60 555.00,74.60" fill="none" stroke="#ff1010" stroke-width="1.9" stroke-linejoin="round" stroke-linecap="round"/>
<polygon points="554.5,74.60000000000001 557,72.60000000000001 562.5,74.60000000000001 557,76.60000000000001" fill="#ff1010"/>
<line x1="577.4" y1="86.7" x2="577.4" y2="63.0" stroke="#dc0000" stroke-width="2"/>
<polygon points="574,64.8 577.4,58.0 580.8,64.8" fill="#dc0000"/>
<text x="589.3" y="86.2" font-family="Liberation Serif, serif" font-size="12" font-weight="bold" font-style="italic" fill="#f4f4f4">2600 nm</text>
<circle cx="501.6" cy="114.8" r="20.5" fill="url(#laserGlow)"/>
<circle cx="501.6" cy="114.8" r="7.0" fill="none" stroke="#dc000c" stroke-width="1.3" opacity="0.9" filter="url(#soft)"/>
<polygon points="501.60,108.40 507.69,112.82 505.36,119.98 497.84,119.98 495.51,112.82" fill="none" stroke="#e4000c" stroke-width="1.5" stroke-linejoin="round" filter="url(#soft)"/>
<circle cx="501.6" cy="114.8" r="2.5" fill="#f00010" filter="url(#soft)"/>
<path d="M519.00,114.20 C520.83,114.20 527.95,114.57 530.00,114.20 C532.05,113.83 530.90,112.55 531.30,112.00 C531.70,111.45 532.03,110.53 532.40,110.90 C532.77,111.27 533.13,113.23 533.50,114.20 C533.87,115.17 534.13,116.70 534.60,116.70 C535.07,116.70 535.63,115.85 536.30,114.20 C536.97,112.55 537.95,106.80 538.60,106.80 C539.25,106.80 539.73,111.63 540.20,114.20 C540.67,116.77 540.93,122.03 541.40,122.20 C541.87,122.37 542.48,117.30 543.00,115.20 C543.52,113.10 544.08,109.77 544.50,109.60 C544.92,109.43 545.18,112.30 545.50,114.20 C545.82,116.10 545.88,120.58 546.40,121.00 C546.92,121.42 547.80,118.07 548.60,116.70 C549.40,115.33 550.50,113.22 551.20,112.80 C551.90,112.38 552.17,113.97 552.80,114.20 C553.43,114.43 554.63,114.20 555.00,114.20" fill="none" stroke="#ff1010" stroke-width="1.9" stroke-linejoin="round" stroke-linecap="round"/>
<polygon points="554.5,114.2 557,112.2 562.5,114.2 557,116.2" fill="#ff1010"/>
<line x1="577.4" y1="126.1" x2="577.4" y2="102.89999999999999" stroke="#dc0000" stroke-width="2"/>
<polygon points="574,104.69999999999999 577.4,97.89999999999999 580.8,104.69999999999999" fill="#dc0000"/>
<text x="589.3" y="125.6" font-family="Liberation Serif, serif" font-size="12" font-weight="bold" font-style="italic" fill="#f4f4f4">2600 nm</text>
<circle cx="501.6" cy="155.2" r="20.5" fill="url(#laserGlow)"/>
<circle cx="501.6" cy="155.2" r="7.0" fill="none" stroke="#dc000c" stroke-width="1.3" opacity="0.9" filter="url(#soft)"/>
<polygon points="501.60,148.80 507.69,153.22 505.36,160.38 497.84,160.38 495.51,153.22" fill="none" stroke="#e4000c" stroke-width="1.5" stroke-linejoin="round" filter="url(#soft)"/>
<circle cx="501.6" cy="155.2" r="2.5" fill="#f00010" filter="url(#soft)"/>
<path d="M519.00,154.60 C520.83,154.60 527.95,154.97 530.00,154.60 C532.05,154.23 530.90,152.95 531.30,152.40 C531.70,151.85 532.03,150.93 532.40,151.30 C532.77,151.67 533.13,153.63 533.50,154.60 C533.87,155.57 534.13,157.10 534.60,157.10 C535.07,157.10 535.63,156.25 536.30,154.60 C536.97,152.95 537.95,147.20 538.60,147.20 C539.25,147.20 539.73,152.03 540.20,154.60 C540.67,157.17 540.93,162.43 541.40,162.60 C541.87,162.77 542.48,157.70 543.00,155.60 C543.52,153.50 544.08,150.17 544.50,150.00 C544.92,149.83 545.18,152.70 545.50,154.60 C545.82,156.50 545.88,160.98 546.40,161.40 C546.92,161.82 547.80,158.47 548.60,157.10 C549.40,155.73 550.50,153.62 551.20,153.20 C551.90,152.78 552.17,154.37 552.80,154.60 C553.43,154.83 554.63,154.60 555.00,154.60" fill="none" stroke="#ff1010" stroke-width="1.9" stroke-linejoin="round" stroke-linecap="round"/>
<polygon points="554.5,154.6 557,152.6 562.5,154.6 557,156.6" fill="#ff1010"/>
<line x1="577.4" y1="166.1" x2="577.4" y2="142.5" stroke="#dc0000" stroke-width="2"/>
<polygon points="574,144.3 577.4,137.5 580.8,144.3" fill="#dc0000"/>
<text x="589.3" y="165.6" font-family="Liberation Serif, serif" font-size="12" font-weight="bold" font-style="italic" fill="#f4f4f4">2600 nm</text>
<circle cx="501.6" cy="193.8" r="20.5" fill="url(#laserGlow)"/>
<circle cx="501.6" cy="193.8" r="7.0" fill="none" stroke="#dc000c" stroke-width="1.3" opacity="0.9" filter="url(#soft)"/>
<polygon points="501.60,187.40 507.69,191.82 505.36,198.98 497.84,198.98 495.51,191.82" fill="none" stroke="#e4000c" stroke-width="1.5" stroke-linejoin="round" filter="url(#soft)"/>
<circle cx="501.6" cy="193.8" r="2.5" fill="#f00010" filter="url(#soft)"/>
<path d="M519.00,193.20 C520.83,193.20 527.95,193.57 530.00,193.20 C532.05,192.83 530.90,191.55 531.30,191.00 C531.70,190.45 532.03,189.53 532.40,189.90 C532.77,190.27 533.13,192.23 533.50,193.20 C533.87,194.17 534.13,195.70 534.60,195.70 C535.07,195.70 535.63,194.85 536.30,193.20 C536.97,191.55 537.95,185.80 538.60,185.80 C539.25,185.80 539.73,190.63 540.20,193.20 C540.67,195.77 540.93,201.03 541.40,201.20 C541.87,201.37 542.48,196.30 543.00,194.20 C543.52,192.10 544.08,188.77 544.50,188.60 C544.92,188.43 545.18,191.30 545.50,193.20 C545.82,195.10 545.88,199.58 546.40,200.00 C546.92,200.42 547.80,197.07 548.60,195.70 C549.40,194.33 550.50,192.22 551.20,191.80 C551.90,191.38 552.17,192.97 552.80,193.20 C553.43,193.43 554.63,193.20 555.00,193.20" fill="none" stroke="#ff1010" stroke-width="1.9" stroke-linejoin="round" stroke-linecap="round"/>
<polygon points="554.5,193.20000000000002 557,191.20000000000002 562.5,193.20000000000002 557,195.20000000000002" fill="#ff1010"/>
<line x1="577.4" y1="207.4" x2="577.4" y2="182.4" stroke="#dc0000" stroke-width="2"/>
<polygon points="574,184.20000000000002 577.4,177.4 580.8,184.20000000000002" fill="#dc0000"/>
<text x="589.3" y="206.9" font-family="Liberation Serif, serif" font-size="12" font-weight="bold" font-style="italic" fill="#f4f4f4">2600 nm</text>
<circle cx="501.6" cy="237.6" r="20.5" fill="url(#laserGlow)"/>
<circle cx="501.6" cy="237.6" r="7.0" fill="none" stroke="#dc000c" stroke-width="1.3" opacity="0.9" filter="url(#soft)"/>
<polygon points="501.60,231.20 507.69,235.62 505.36,242.78 497.84,242.78 495.51,235.62" fill="none" stroke="#e4000c" stroke-width="1.5" stroke-linejoin="round" filter="url(#soft)"/>
<circle cx="501.6" cy="237.6" r="2.5" fill="#f00010" filter="url(#soft)"/>
<path d="M519.00,237.00 C520.83,237.00 527.95,237.37 530.00,237.00 C532.05,236.63 530.90,235.35 531.30,234.80 C531.70,234.25 532.03,233.33 532.40,233.70 C532.77,234.07 533.13,236.03 533.50,237.00 C533.87,237.97 534.13,239.50 534.60,239.50 C535.07,239.50 535.63,238.65 536.30,237.00 C536.97,235.35 537.95,229.60 538.60,229.60 C539.25,229.60 539.73,234.43 540.20,237.00 C540.67,239.57 540.93,244.83 541.40,245.00 C541.87,245.17 542.48,240.10 543.00,238.00 C543.52,235.90 544.08,232.57 544.50,232.40 C544.92,232.23 545.18,235.10 545.50,237.00 C545.82,238.90 545.88,243.38 546.40,243.80 C546.92,244.22 547.80,240.87 548.60,239.50 C549.40,238.13 550.50,236.02 551.20,235.60 C551.90,235.18 552.17,236.77 552.80,237.00 C553.43,237.23 554.63,237.00 555.00,237.00" fill="none" stroke="#ff1010" stroke-width="1.9" stroke-linejoin="round" stroke-linecap="round"/>
<polygon points="554.5,237.0 557,235.0 562.5,237.0 557,239.0" fill="#ff1010"/>
<line x1="577.4" y1="249.6" x2="577.4" y2="223.70000000000002" stroke="#dc0000" stroke-width="2"/>
<polygon points="574,225.50000000000003 577.4,218.70000000000002 580.8,225.50000000000003" fill="#dc0000"/>
<text x="589.3" y="249.1" font-family="Liberation Serif, serif" font-size="12" font-weight="bold" font-style="italic" fill="#f4f4f4">2600 nm</text>
<circle cx="501.6" cy="278.6" r="20.5" fill="url(#laserGlow)"/>
<circle cx="501.6" cy="278.6" r="7.0" fill="none" stroke="#dc000c" stroke-width="1.3" opacity="0.9" filter="url(#soft)"/>
<polygon points="501.60,272.20 507.69,276.62 505.36,283.78 497.84,283.78 495.51,276.62" fill="none" stroke="#e4000c" stroke-width="1.5" stroke-linejoin="round" filter="url(#soft)"/>
<circle cx="501.6" cy="278.6" r="2.5" fill="#f00010" filter="url(#soft)"/>
<path d="M519.00,278.00 C520.83,278.00 527.95,278.37 530.00,278.00 C532.05,277.63 530.90,276.35 531.30,275.80 C531.70,275.25 532.03,274.33 532.40,274.70 C532.77,275.07 533.13,277.03 533.50,278.00 C533.87,278.97 534.13,280.50 534.60,280.50 C535.07,280.50 535.63,279.65 536.30,278.00 C536.97,276.35 537.95,270.60 538.60,270.60 C539.25,270.60 539.73,275.43 540.20,278.00 C540.67,280.57 540.93,285.83 541.40,286.00 C541.87,286.17 542.48,281.10 543.00,279.00 C543.52,276.90 544.08,273.57 544.50,273.40 C544.92,273.23 545.18,276.10 545.50,278.00 C545.82,279.90 545.88,284.38 546.40,284.80 C546.92,285.22 547.80,281.87 548.60,280.50 C549.40,279.13 550.50,277.02 551.20,276.60 C551.90,276.18 552.17,277.77 552.80,278.00 C553.43,278.23 554.63,278.00 555.00,278.00" fill="none" stroke="#ff1010" stroke-width="1.9" stroke-linejoin="round" stroke-linecap="round"/>
<polygon points="554.5,278.0 557,276.0 562.5,278.0 557,280.0" fill="#ff1010"/>
<line x1="577.4" y1="293.9" x2="577.4" y2="265.3" stroke="#dc0000" stroke-width="2"/>
<polygon points="574,267.1 577.4,260.3 580.8,267.1" fill="#dc0000"/>
<text x="589.3" y="293.4" font-family="Liberation Serif, serif" font-size="12" font-weight="bold" font-style="italic" fill="#f4f4f4">2600 nm</text>
<circle cx="501.6" cy="320.7" r="20.5" fill="url(#laserGlow)"/>
<circle cx="501.6" cy="320.7" r="7.0" fill="none" stroke="#dc000c" stroke-width="1.3" opacity="0.9" filter="url(#soft)"/>
<polygon points="501.60,314.30 507.69,318.72 505.36,325.88 497.84,325.88 495.51,318.72" fill="none" stroke="#e4000c" stroke-width="1.5" stroke-linejoin="round" filter="url(#soft)"/>
<circle cx="501.6" cy="320.7" r="2.5" fill="#f00010" filter="url(#soft)"/>
<path d="M519.00,320.10 C520.83,320.10 527.95,320.47 530.00,320.10 C532.05,319.73 530.90,318.45 531.30,317.90 C531.70,317.35 532.03,316.43 532.40,316.80 C532.77,317.17 533.13,319.13 533.50,320.10 C533.87,321.07 534.13,322.60 534.60,322.60 C535.07,322.60 535.63,321.75 536.30,320.10 C536.97,318.45 537.95,312.70 538.60,312.70 C539.25,312.70 539.73,317.53 540.20,320.10 C540.67,322.67 540.93,327.93 541.40,328.10 C541.87,328.27 542.48,323.20 543.00,321.10 C543.52,319.00 544.08,315.67 544.50,315.50 C544.92,315.33 545.18,318.20 545.50,320.10 C545.82,322.00 545.88,326.48 546.40,326.90 C546.92,327.32 547.80,323.97 548.60,322.60 C549.40,321.23 550.50,319.12 551.20,318.70 C551.90,318.28 552.17,319.87 552.80,320.10 C553.43,320.33 554.63,320.10 555.00,320.10" fill="none" stroke="#ff1010" stroke-width="1.9" stroke-linejoin="round" stroke-linecap="round"/>
<polygon points="554.5,320.09999999999997 557,318.09999999999997 562.5,320.09999999999997 557,322.09999999999997" fill="#ff1010"/>
<line x1="577.4" y1="336.0" x2="577.4" y2="308.8" stroke="#dc0000" stroke-width="2"/>
<polygon points="574,310.6 577.4,303.8 580.8,310.6" fill="#dc0000"/>
<text x="589.3" y="335.5" font-family="Liberation Serif, serif" font-size="12" font-weight="bold" font-style="italic" fill="#f4f4f4">2600 nm</text>
<line x1="548.5" y1="91.6" x2="615.5" y2="91.6" stroke="#b4b4b4" stroke-width="1.7" stroke-dasharray="1.8 1.55"/>
<line x1="548.5" y1="131.2" x2="615.5" y2="131.2" stroke="#b4b4b4" stroke-width="1.7" stroke-dasharray="1.8 1.55"/>
<line x1="548.5" y1="171.1" x2="615.5" y2="171.1" stroke="#b4b4b4" stroke-width="1.7" stroke-dasharray="1.8 1.55"/>
<line x1="548.5" y1="212.4" x2="615.5" y2="212.4" stroke="#b4b4b4" stroke-width="1.7" stroke-dasharray="1.8 1.55"/>
<line x1="548.5" y1="254" x2="615.5" y2="254" stroke="#b4b4b4" stroke-width="1.7" stroke-dasharray="1.8 1.55"/>
<line x1="548.5" y1="297.5" x2="615.5" y2="297.5" stroke="#b4b4b4" stroke-width="1.7" stroke-dasharray="1.8 1.55"/>
<text x="517.3" y="342.6" font-family="Liberation Serif, serif" font-size="14" font-weight="bold" font-style="italic" fill="#f4ece4" filter="url(#glowBrownTxt)" textLength="47" lengthAdjust="spacingAndGlyphs">Fs laser</text>
<rect x="639.8000000000001" y="41" width="6.8" height="7.2" fill="#c4c424" opacity="0.9"/>
<line x1="639.8000000000001" y1="45" x2="646.6" y2="45" stroke="#7ccc48" stroke-width="2"/>
<rect x="647.55" y="48.45" width="2.9" height="2.9" fill="#ffc400" transform="rotate(45 649.00 49.90)"/>
<rect x="651.75" y="53.05" width="2.9" height="2.9" fill="#ffc400" transform="rotate(45 653.20 54.50)"/>
<rect x="655.35" y="57.65" width="2.9" height="2.9" fill="#ffc400" transform="rotate(45 656.80 59.10)"/>
<rect x="658.65" y="62.65" width="2.9" height="2.9" fill="#ffc400" transform="rotate(45 660.10 64.10)"/>
<rect x="661.25" y="67.95" width="2.9" height="2.9" fill="#ffc400" transform="rotate(45 662.70 69.40)"/>
<rect x="664.05" y="73.65" width="2.9" height="2.9" fill="#ffc400" transform="rotate(45 665.50 75.10)"/>
<rect x="666.55" y="79.45" width="2.9" height="2.9" fill="#ffc400" transform="rotate(45 668.00 80.90)"/>
<rect x="669.85" y="84.75" width="2.9" height="2.9" fill="#ffc400" transform="rotate(45 671.30 86.20)"/>
<rect x="673.15" y="89.65" width="2.9" height="2.9" fill="#ffc400" transform="rotate(45 674.60 91.10)"/>
<polygon points="683.8,100.6 674.5999999999999,97.0 679.5999999999999,91.0" fill="#ffc000"/>
<rect x="654.7" y="41" width="6.8" height="7.2" fill="#c4c424" opacity="0.9"/>
<line x1="654.7" y1="45" x2="661.5" y2="45" stroke="#7ccc48" stroke-width="2"/>
<rect x="662.15" y="48.45" width="2.9" height="2.9" fill="#ffc400" transform="rotate(45 663.60 49.90)"/>
<rect x="666.35" y="53.05" width="2.9" height="2.9" fill="#ffc400" transform="rotate(45 667.80 54.50)"/>
<rect x="669.95" y="57.65" width="2.9" height="2.9" fill="#ffc400" transform="rotate(45 671.40 59.10)"/>
<rect x="673.25" y="62.65" width="2.9" height="2.9" fill="#ffc400" transform="rotate(45 674.70 64.10)"/>
<rect x="675.85" y="67.95" width="2.9" height="2.9" fill="#ffc400" transform="rotate(45 677.30 69.40)"/>
<rect x="678.65" y="73.65" width="2.9" height="2.9" fill="#ffc400" transform="rotate(45 680.10 75.10)"/>
<rect x="681.15" y="79.45" width="2.9" height="2.9" fill="#ffc400" transform="rotate(45 682.60 80.90)"/>
<rect x="684.45" y="84.75" width="2.9" height="2.9" fill="#ffc400" transform="rotate(45 685.90 86.20)"/>
<rect x="687.75" y="89.65" width="2.9" height="2.9" fill="#ffc400" transform="rotate(45 689.20 91.10)"/>
<polygon points="698.4,100.6 689.1999999999999,97.0 694.1999999999999,91.0" fill="#ffc000"/>
<rect x="671.2" y="41" width="6.8" height="7.2" fill="#c4c424" opacity="0.9"/>
<line x1="671.2" y1="45" x2="678.0" y2="45" stroke="#7ccc48" stroke-width="2"/>
<rect x="678.35" y="48.45" width="2.9" height="2.9" fill="#ffc400" transform="rotate(45 679.80 49.90)"/>
<rect x="682.55" y="53.05" width="2.9" height="2.9" fill="#ffc400" transform="rotate(45 684.00 54.50)"/>
<rect x="686.15" y="57.65" width="2.9" height="2.9" fill="#ffc400" transform="rotate(45 687.60 59.10)"/>
<rect x="689.45" y="62.65" width="2.9" height="2.9" fill="#ffc400" transform="rotate(45 690.90 64.10)"/>
<rect x="692.05" y="67.95" width="2.9" height="2.9" fill="#ffc400" transform="rotate(45 693.50 69.40)"/>
<rect x="694.85" y="73.65" width="2.9" height="2.9" fill="#ffc400" transform="rotate(45 696.30 75.10)"/>
<rect x="697.35" y="79.45" width="2.9" height="2.9" fill="#ffc400" transform="rotate(45 698.80 80.90)"/>
<rect x="700.65" y="84.75" width="2.9" height="2.9" fill="#ffc400" transform="rotate(45 702.10 86.20)"/>
<rect x="703.95" y="89.65" width="2.9" height="2.9" fill="#ffc400" transform="rotate(45 705.40 91.10)"/>
<polygon points="714.5999999999999,100.6 705.3999999999999,97.0 710.3999999999999,91.0" fill="#ffc000"/>
<line x1="741" y1="117" x2="648" y2="318" stroke="#5e5800" stroke-width="22" stroke-linecap="round" filter="url(#blur3)"/>
<ellipse cx="660" cy="305" rx="16" ry="22" fill="#5a5400" filter="url(#blur4)"/>
<line x1="741" y1="117" x2="648" y2="318" stroke="#686000" stroke-width="12" stroke-linecap="round" filter="url(#blur2)"/>
<line x1="741.4" y1="116.7" x2="651" y2="311.4" stroke="#ffc000" stroke-width="4" stroke-dasharray="13.9 8.5"/>
<polygon points="643.3,313.2 654.5,318.4 643.3,328.3" fill="#ffc000"/>
<text transform="translate(703,271) rotate(-62.5)" font-family="Liberation Serif, serif" font-size="18" font-weight="bold" fill="#f8c400">400 - 800 nm</text>
<rect x="710.5" y="273" width="84.2" height="75.6" fill="none" stroke="#2a6a14" stroke-width="5" filter="url(#blur2)"/>
<rect x="710.5" y="273" width="84.2" height="75.6" fill="#0a0604" stroke="#3e9420" stroke-width="1.5"/>
<rect x="717.9" y="280" width="1.3" height="64" fill="url(#vline)"/>
<rect x="779.0" y="280" width="1.3" height="64" fill="url(#vline)"/>
<circle cx="750.9" cy="310.2" r="21.5" fill="none" stroke="#1a0e06" stroke-width="2"/>
<circle cx="750.9" cy="310.2" r="17" fill="url(#halo)"/>
<line x1="760.4" y1="311.1" x2="766.3" y2="311.7" stroke="#7a3a12" stroke-width="0.9" opacity="0.45"/>
<line x1="759.5" y1="314.3" x2="764.9" y2="316.9" stroke="#7a3a12" stroke-width="0.9" opacity="0.45"/>
<line x1="757.5" y1="317.0" x2="761.7" y2="321.3" stroke="#7a3a12" stroke-width="0.9" opacity="0.45"/>
<line x1="754.8" y1="318.9" x2="757.3" y2="324.3" stroke="#7a3a12" stroke-width="0.9" opacity="0.45"/>
<line x1="751.6" y1="319.7" x2="752.1" y2="325.7" stroke="#7a3a12" stroke-width="0.9" opacity="0.45"/>
<line x1="748.3" y1="319.3" x2="746.7" y2="325.1" stroke="#7a3a12" stroke-width="0.9" opacity="0.45"/>
<line x1="745.4" y1="317.9" x2="741.8" y2="322.8" stroke="#7a3a12" stroke-width="0.9" opacity="0.45"/>
<line x1="743.0" y1="315.5" x2="738.1" y2="318.9" stroke="#7a3a12" stroke-width="0.9" opacity="0.45"/>
<line x1="741.7" y1="312.5" x2="735.9" y2="314.0" stroke="#7a3a12" stroke-width="0.9" opacity="0.45"/>
<line x1="741.4" y1="309.3" x2="735.5" y2="308.7" stroke="#7a3a12" stroke-width="0.9" opacity="0.45"/>
<line x1="742.3" y1="306.1" x2="736.9" y2="303.5" stroke="#7a3a12" stroke-width="0.9" opacity="0.45"/>
<line x1="744.3" y1="303.4" x2="740.1" y2="299.1" stroke="#7a3a12" stroke-width="0.9" opacity="0.45"/>
<line x1="747.0" y1="301.5" x2="744.5" y2="296.1" stroke="#7a3a12" stroke-width="0.9" opacity="0.45"/>
<line x1="750.2" y1="300.7" x2="749.7" y2="294.7" stroke="#7a3a12" stroke-width="0.9" opacity="0.45"/>
<line x1="753.5" y1="301.1" x2="755.1" y2="295.3" stroke="#7a3a12" stroke-width="0.9" opacity="0.45"/>
<line x1="756.4" y1="302.5" x2="760.0" y2="297.6" stroke="#7a3a12" stroke-width="0.9" opacity="0.45"/>
<line x1="758.8" y1="304.9" x2="763.7" y2="301.5" stroke="#7a3a12" stroke-width="0.9" opacity="0.45"/>
<line x1="760.1" y1="307.9" x2="765.9" y2="306.4" stroke="#7a3a12" stroke-width="0.9" opacity="0.45"/>
<circle cx="750.9" cy="310.2" r="9.9" fill="url(#sun)"/>
<g opacity="0.88" filter="url(#blur1)"><path d="M677.5,283 C671.5,296 672,309 688,315.5 L702,318.5" fill="none" stroke="#6c6a12" stroke-width="14" stroke-linecap="round"/><polygon points="698,302.5 736,320 697,334.5" fill="#6c6a12" stroke="#6c6a12" stroke-width="2" stroke-linejoin="round"/><path d="M672,292 C668,306 674,318 694,324 L714,328" fill="none" stroke="#a4a244" stroke-width="1.1" opacity="0.7"/><path d="M675,290 C672,303 677,314 696,320 L720,325" fill="none" stroke="#9a9838" stroke-width="0.9" opacity="0.5"/><path d="M681,287 C678,298 680,306 694,311 L706,313" fill="none" stroke="#9a9838" stroke-width="0.9" opacity="0.5"/></g>
</svg></body></html>
